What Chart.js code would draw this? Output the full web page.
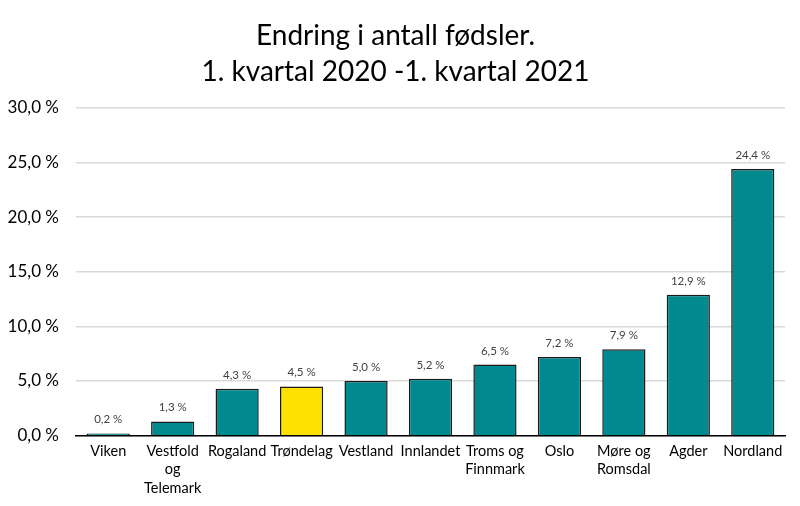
<!DOCTYPE html>
<html>
<head>
<meta charset="utf-8">
<script src="https://cdn.jsdelivr.net/npm/chart.js@4"></script>
<style>
  html, body { margin: 0; padding: 0; background: #fff; }
  #wrap { width: 800px; height: 506px; }
</style>
</head>
<body>
<div id="wrap"><canvas id="chart" width="800" height="506"></canvas></div>
<script>
var regions = ['Viken', ['Vestfold', 'og', 'Telemark'], 'Rogaland', 'Trøndelag', 'Vestland',
    'Innlandet', ['Troms og', 'Finnmark'], 'Oslo', ['Møre og', 'Romsdal'], 'Agder', 'Nordland'];
var change = [0.2, 1.3, 4.3, 4.5, 5.0, 5.2, 6.5, 7.2, 7.9, 12.9, 24.4];
var highlight = 'Trøndelag';
var titleLines = ['Endring i antall fødsler.', '1. kvartal 2020 -1. kvartal 2021'];

var fmt = function (v) {
    return v.toFixed(1).replace('.', ',') + ' %';
};

var barColors = regions.map(function (r) {
    return r === highlight ? '#FFE000' : '#008A8F';
});

// draw value labels over each bar
var valueLabels = {
    id: 'valueLabels',
    afterDatasetsDraw: function (chart) {
        var ctx = chart.ctx;
        var meta = chart.getDatasetMeta(0);
        ctx.save();
        ctx.font = '11.5px Lato';
        ctx.fillStyle = '#404040';
        ctx.textAlign = 'center';
        ctx.textBaseline = 'bottom';
        meta.data.forEach(function (bar, i) {
            ctx.fillText(fmt(change[i]), bar.x, bar.y - 8);
        });
        ctx.restore();
    }
};

var config = {
    type: 'bar',
    data: {
        labels: regions,
        datasets: [{
            data: change,
            backgroundColor: barColors,
            borderColor: '#1a1a1a',
            borderWidth: 1.5,
            borderSkipped: 'bottom',
            barPercentage: 0.67,
            categoryPercentage: 1
        }]
    },
    options: {
        responsive: false,
        animation: false,
        devicePixelRatio: 1,
        layout: {
            padding: { left: 6, right: 15, top: 8, bottom: 2 }
        },
        plugins: {
            legend: { display: false },
            tooltip: { enabled: false },
            title: {
                display: true,
                text: titleLines,
                color: '#000',
                font: { family: 'Lato', size: 28, weight: 'normal', lineHeight: 1.32 },
                padding: { top: 9, bottom: 17 }
            }
        },
        scales: {
            y: {
                min: 0,
                max: 30,
                afterFit: function (scale) { scale.width = 70; },
                ticks: {
                    stepSize: 5,
                    color: '#000',
                    font: { family: 'Lato', size: 17 },
                    padding: 17,
                    callback: function (v) { return fmt(v); }
                },
                grid: { color: '#d9d9d9', lineWidth: 1.5, drawTicks: false },
                border: { display: false }
            },
            x: {
                ticks: {
                    color: '#000',
                    font: { family: 'Lato', size: 14.5, lineHeight: 1.25 },
                    maxRotation: 0,
                    autoSkip: false,
                    padding: 7
                },
                grid: { display: false, drawTicks: false },
                border: { display: true, color: '#000', width: 1.5 }
            }
        }
    },
    plugins: [valueLabels]
};

window.onload = function () {
    var ctx = document.getElementById('chart').getContext('2d');
    window.myBar = new Chart(ctx, config);
};
</script>
</body>
</html>
